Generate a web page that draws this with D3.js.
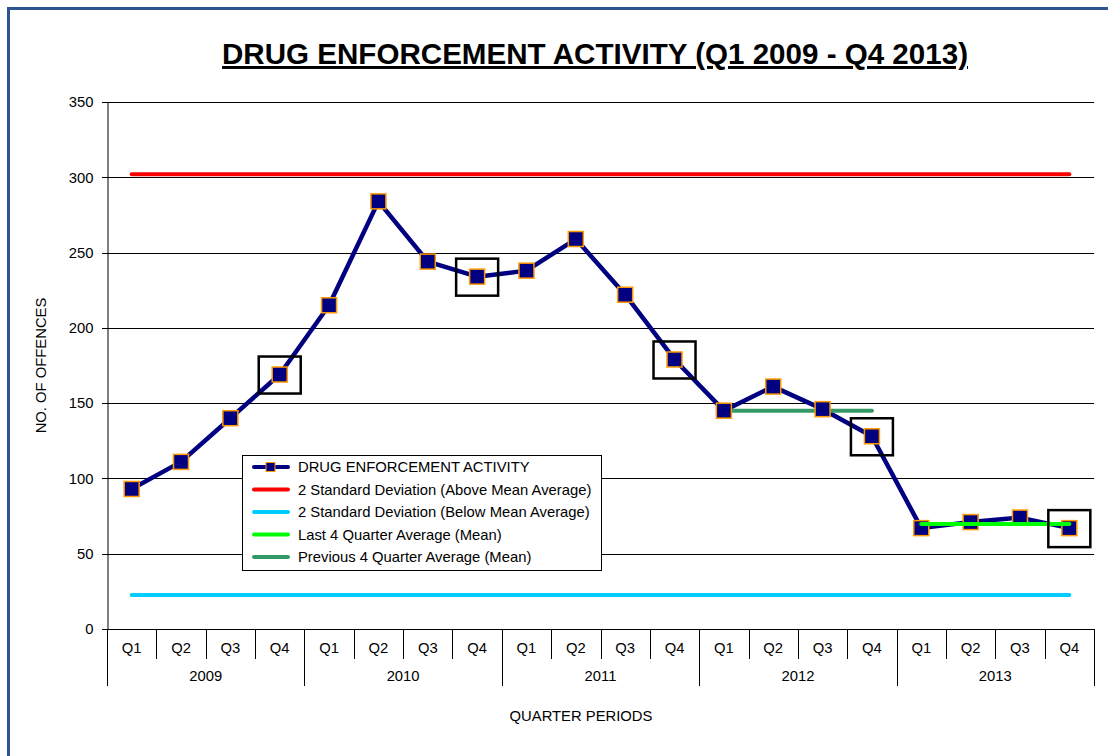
<!DOCTYPE html>
<html><head><meta charset="utf-8">
<script src="https://cdn.jsdelivr.net/npm/d3@7"></script>
<style>body{margin:0;background:#fff}svg{display:block}text{font-family:"Liberation Sans",Arial,sans-serif}</style>
</head><body>
<svg id="c" width="1108" height="756"></svg>
<script>
const years = ["2009","2010","2011","2012","2013"];
const quarters = ["Q1","Q2","Q3","Q4"];
const activity = [93,111,140,169, 215,284,244,234, 238,259,222,179, 145,161,146,128, 67,71,74,67];
const upperSD = 302;
const lowerSD = 22.5;
const last4Avg = 69.75;
const prev4Avg = 145;
const highlighted = [3,7,11,15,19];
const yTicks = [0,50,100,150,200,250,300,350];

const svg = d3.select("#c");
const L=107,R=1094,T=102,B=629;
const FS = 14.8;
const cats = [];
years.forEach(y=>quarters.forEach(q=>cats.push(y+"-"+q)));
const x = d3.scaleBand().domain(cats).range([L,R]);
const y = d3.scaleLinear().domain([0,350]).range([B,T]);
const cx = i => x(cats[i]) + x.bandwidth()/2;

// frame
svg.append("rect").attr("x",8.5).attr("y",8.5).attr("width",1120).attr("height",760)
  .attr("fill","none").attr("stroke","#2E5591").attr("stroke-width",3);

// title
svg.append("text").attr("x",595).attr("y",64).attr("text-anchor","middle")
  .attr("font-size",29.5).attr("font-weight","bold").attr("text-decoration","underline")
  .attr("textLength",746).attr("lengthAdjust","spacingAndGlyphs")
  .text("DRUG ENFORCEMENT ACTIVITY (Q1 2009 - Q4 2013)");

// gridlines
svg.append("g").selectAll("line").data(yTicks).join("line")
  .attr("x1",L-5).attr("x2",R).attr("y1",d=>Math.round(y(d))+0.5).attr("y2",d=>Math.round(y(d))+0.5)
  .attr("stroke","#000").attr("stroke-width",1);
// y axis
const ya = svg.append("g").attr("transform",`translate(${L+0.5},0)`).call(d3.axisLeft(y).tickValues(yTicks).tickSize(5).tickPadding(9));
ya.select(".domain").attr("stroke","#000");
ya.selectAll("text").attr("font-size",FS).style("font-family","'Liberation Sans',Arial,sans-serif").attr("fill","#000");
ya.selectAll(".tick line").remove();
svg.append("text").attr("transform",`translate(46,${(T+B)/2}) rotate(-90)`).attr("text-anchor","middle")
  .attr("font-size",FS).text("NO. OF OFFENCES");

// x axis multi-level
const xg = svg.append("g");
cats.forEach((c,i)=>{
  const xl = Math.round(x(c))+0.5;
  const isYear = i%4===0;
  xg.append("line").attr("x1",xl).attr("x2",xl).attr("y1",B).attr("y2",isYear?686:659).attr("stroke","#000");
  xg.append("text").attr("x",cx(i)).attr("y",653).attr("text-anchor","middle").attr("font-size",FS).text(quarters[i%4]);
});
xg.append("line").attr("x1",Math.round(R)+0.5).attr("x2",Math.round(R)+0.5).attr("y1",B).attr("y2",686).attr("stroke","#000");
years.forEach((yr,k)=>{
  const xm = (x(cats[k*4]) + x(cats[k*4+3]) + x.bandwidth())/2;
  xg.append("text").attr("x",xm).attr("y",681).attr("text-anchor","middle").attr("font-size",FS).text(yr);
});
svg.append("text").attr("x",581).attr("y",721).attr("text-anchor","middle").attr("font-size",FS).text("QUARTER PERIODS");

// SD lines
svg.append("line").attr("x1",cx(0)).attr("x2",cx(19)).attr("y1",y(upperSD)).attr("y2",y(upperSD))
  .attr("stroke","#FF0000").attr("stroke-width",4).attr("stroke-linecap","round");
svg.append("line").attr("x1",cx(0)).attr("x2",cx(19)).attr("y1",y(lowerSD)).attr("y2",y(lowerSD))
  .attr("stroke","#00CCFF").attr("stroke-width",4).attr("stroke-linecap","round");

// activity line
const line = d3.line().x((d,i)=>cx(i)).y(d=>y(d));
svg.append("path").datum(activity).attr("d",line).attr("fill","none").attr("stroke","#000080").attr("stroke-width",4.5).attr("stroke-linejoin","round");

// averages
svg.append("line").attr("x1",cx(12)).attr("x2",cx(15)).attr("y1",y(prev4Avg)).attr("y2",y(prev4Avg))
  .attr("stroke","#339966").attr("stroke-width",4).attr("stroke-linecap","round");

// markers
svg.append("g").selectAll("rect").data(activity).join("rect")
  .attr("x",(d,i)=>cx(i)-7.5).attr("y",d=>y(d)-7.5).attr("width",15).attr("height",15)
  .attr("fill","#000080").attr("stroke","#FF9900").attr("stroke-width",1.5);

svg.append("line").attr("x1",cx(16)).attr("x2",cx(19)).attr("y1",y(last4Avg)).attr("y2",y(last4Avg))
  .attr("stroke","#00FF00").attr("stroke-width",4).attr("stroke-linecap","round");

// highlight boxes
svg.append("g").selectAll("rect").data(highlighted).join("rect")
  .attr("x",i=>cx(i)-21).attr("y",i=>y(activity[i])-18).attr("width",42).attr("height",37)
  .attr("fill","none").attr("stroke","#000").attr("stroke-width",2.5);

// legend
const lg = svg.append("g");
lg.append("rect").attr("x",242.5).attr("y",455.5).attr("width",359).attr("height",115).attr("fill","#fff").attr("stroke","#000");
const legendItems = [
  {label:"DRUG ENFORCEMENT ACTIVITY", color:"#000080", marker:true},
  {label:"2 Standard Deviation (Above Mean Average)", color:"#FF0000"},
  {label:"2 Standard Deviation (Below Mean Average)", color:"#00CCFF"},
  {label:"Last 4 Quarter Average (Mean)", color:"#00FF00"},
  {label:"Previous 4 Quarter Average (Mean)", color:"#339966"}
];
legendItems.forEach((it,k)=>{
  const yy = 467 + k*22.5;
  lg.append("line").attr("x1",254).attr("x2",288).attr("y1",yy).attr("y2",yy).attr("stroke",it.color).attr("stroke-width",4).attr("stroke-linecap","round");
  if(it.marker) lg.append("rect").attr("x",266).attr("y",yy-4.5).attr("width",9).attr("height",9).attr("fill","#000080").attr("stroke","#FF9900").attr("stroke-width",1);
  lg.append("text").attr("x",298).attr("y",yy+5).attr("font-size",FS).text(it.label);
});
</script>
</body></html>
